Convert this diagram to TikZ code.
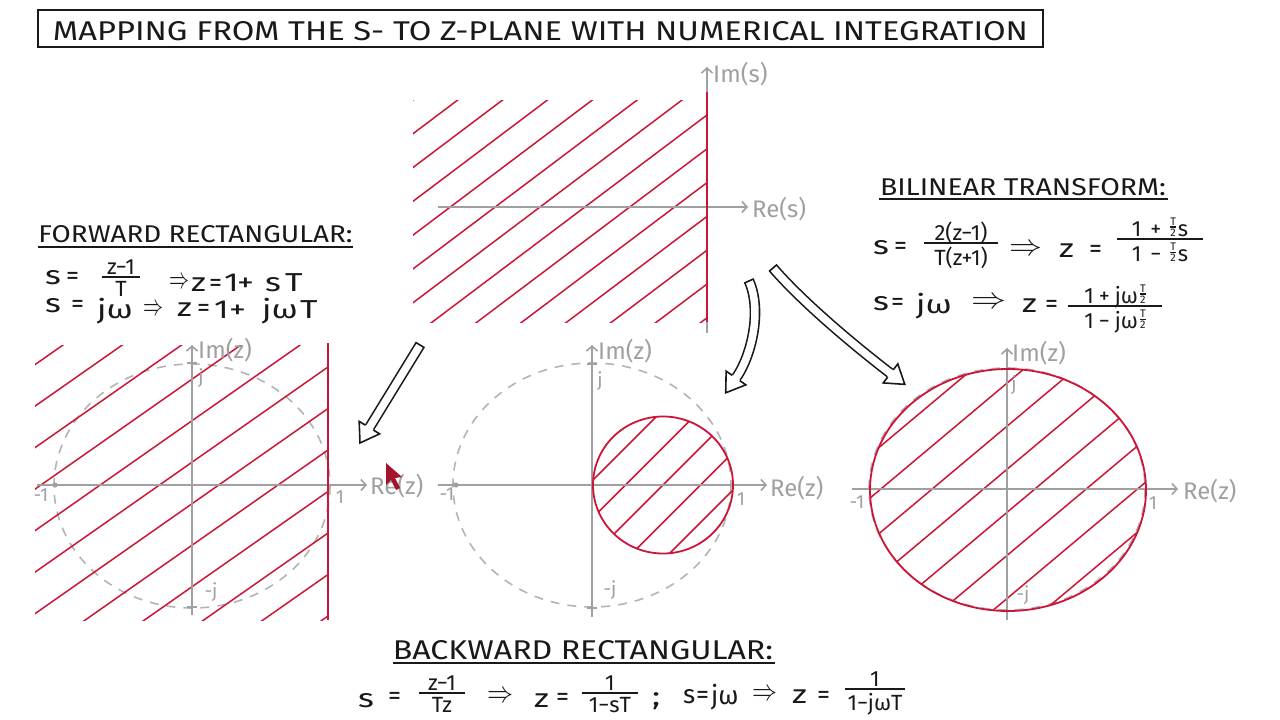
\documentclass[tikz,border=0pt]{standalone}
\usepackage{graphicx}
\usepackage{amsmath}
\usepackage{fontspec}
\setmainfont{Fira Sans}
\usetikzlibrary{arrows.meta}
\definecolor{hred}{RGB}{205,22,55}
\definecolor{axgrey}{RGB}{160,160,160}
\definecolor{dashgrey}{RGB}{180,180,180}
\definecolor{ink}{RGB}{25,25,25}
\newcommand{\myhead}[2]{%
  \begin{scope}[shift={(#1)}, rotate=#2]
    \fill[white] (-0.5,-5.3) -- (-0.5,-12) -- (18,0) -- (-0.5,12) -- (-0.5,5.3) -- cycle;
    \draw[ink, line width=1.6pt, line join=miter] (0,-4.5) -- (0,-12) -- (18,0) -- (0,12) -- (0,4.5);
  \end{scope}}
\newcommand{\mytail}[2]{%
  \begin{scope}[shift={(#1)}, rotate=#2]
    \draw[ink, line width=1.6pt] (0,-5.3) -- (0,5.3);
  \end{scope}}
% small stacked fraction (T over 2), sitting on the baseline
\newcommand{\smfr}[2]{\vbox{\offinterlineskip\halign{\hfil\fontsize{11}{11}\selectfont##\hfil\cr #1\cr\noalign{\kern1pt\hrule height 1.1pt\kern1pt}#2\cr}}}
% one token of a formula (widened like the handwriting), and one at natural width
\newcommand{\mytok}[4]{\node[eqtok] (#1) at (#2,#3) {\scalebox{1.3}[1]{#4}};}
\newcommand{\mytokn}[4]{\node[eqtok] (#1) at (#2,#3) {#4};}
% an implication arrow: name, centre x, centre y, width
\newcommand{\myimp}[4]{\node[imptok] (#1) at (#2,#3) {\resizebox*{#4pt}{11pt}{$\Rightarrow$}};}
% a fraction: [numerator lift], name, centre x, bar y, half width, numerator, denominator
\newcommand{\myfr}[7][3]{%
  \node[fracpart, anchor=base] (#2n) at (#3,#4-#1) {#6};
  \node[fracpart, anchor=north] (#2d) at (#3,#4+4) {#7};
  \draw[ink, line width=1.6pt] (#3-#5,#4) -- (#3+#5,#4);}
\begin{document}
\begin{tikzpicture}[x=1pt,y=-1pt,
  ax/.style={axgrey, line width=1.6pt, -{Straight Barb[length=5pt,width=11pt,line width=1.6pt]}},
  axlab/.style={axgrey, font=\fontsize{24}{24}\selectfont, inner sep=0pt, anchor=west},
  ticklab/.style={axgrey, font=\fontsize{19}{19}\selectfont, inner sep=0pt},
  unitc/.style={dashgrey, line width=1.6pt, dash pattern=on 9pt off 8pt},
  hatch/.style={hred, line width=1.5pt},
  redb/.style={hred, line width=1.8pt},
  tick/.style={axgrey, line width=1.6pt},
  shaft/.style={ink, line width=1.6pt, double=white, double distance=7.5pt},
  head/.style={ink, inner sep=0pt},
  eqtok/.style={ink, inner sep=0pt, anchor=base west, font=\fontsize{26}{26}\selectfont},
  imptok/.style={ink, inner sep=0pt, anchor=center},
  fracpart/.style={ink, inner sep=0pt, font=\fontsize{22}{22}\selectfont},
  uline/.style={ink, line width=1.6pt}
]
\useasboundingbox (0,0) rectangle (1280,720);
\fill[white] (0,0) rectangle (1280,720);

% ---------- title ----------
\node[draw=ink, line width=1.8pt, minimum width=1005pt, minimum height=37pt, inner sep=0pt] (titlebox) at (540.5,28.5) {};
\node[head] (title) at (540.5,31.5) {\resizebox{975pt}{19pt}{MAPPING FROM THE S- TO Z-PLANE WITH NUMERICAL INTEGRATION}};

% ---------- s-plane ----------
\begin{scope}
  \clip (413,100) rectangle (707,322);
  \begin{scope}[shift={(707,115)}, rotate=37]
    \foreach \k in {-14,...,14} \draw[hatch] (-500,\k*27) -- (500,\k*27);
  \end{scope}
\end{scope}
\draw[ax] (438,207) -- (748,207);
\draw[ax] (707,333) -- (707,67);
\draw[redb] (707,92) -- (707,322);
\node[axlab] (res) at (752,209) {Re(s)};
\node[axlab] (ims) at (713,74) {Im(s)};

% ---------- forward rectangular ----------
\node[head] (fwdhead) at (195.5,234.5) {\resizebox{314pt}{17pt}{FORWARD RECTANGULAR:}};
\draw[uline] (38,247) -- (353,247);
\mytok{f1s}{45}{284}{s}
\mytokn{f1eq}{66}{284}{=}
\myfr{f1f}{121}{277}{19}{z−1}{T}
\myimp{f1r}{179}{283}{20}
\mytok{f1z}{191}{291}{z}
\mytokn{f1eqb}{209}{291}{=}
\mytok{f1one}{224}{291}{1}
\mytok{f1p}{237}{291}{+}
\mytok{f1sb}{265}{291}{s}
\mytok{f1T}{285}{291}{T}
\mytok{f2s}{45}{312}{s}
\mytokn{f2eq}{71}{312}{=}
\mytok{f2jw}{97}{318}{jω}
\myimp{f2r}{153}{310}{20}
\mytok{f2z}{177}{316}{z}
\mytokn{f2eqb}{197}{316}{=}
\mytok{f2one}{214}{318}{1}
\mytok{f2p}{229}{318}{+}
\mytok{f2jw2}{262}{318}{jω}
\mytok{f2T}{300}{318}{T}

% left z-plane
\draw[unitc] (192,486) ellipse [x radius=138, y radius=122];
\begin{scope}
  \clip (35,345) rectangle (328,620);
  \begin{scope}[shift={(328,367)}, rotate=35]
    \foreach \k in {-14,...,14} \draw[hatch] (-600,\k*34) -- (600,\k*34);
  \end{scope}
\end{scope}
\draw[ax] (37,485) -- (367,485);
\draw[ax] (192,615) -- (192,345);
\draw[tick] (187,363) -- (197,363);
\draw[tick] (187,607) -- (197,607);
\fill[axgrey] (55,485) circle (2.6);
\draw[redb] (328,343) -- (328,620);
\node[axlab] (rez1) at (370,486) {Re(z)};
\node[axlab] (imz1) at (198,350) {Im(z)};
\node[ticklab] (m1a) at (41,495) {-1};
\node[ticklab] (p1a) at (340,497) {1};
\node[ticklab] (ja) at (201,378) {j};
\node[ticklab] (mja) at (211,592) {-j};

% ---------- middle z-plane (backward) ----------
\draw[unitc] (592,485) ellipse [x radius=139, y radius=122];
\begin{scope}
  \clip (663,485) ellipse [x radius=70, y radius=68.5];
  \begin{scope}[shift={(663,485)}, rotate=45]
    \foreach \k in {-2,...,2} \draw[hatch] (-200,\k*26.5) -- (200,\k*26.5);
  \end{scope}
\end{scope}
\draw[ax] (438,485) -- (767,485);
\draw[ax] (592,617) -- (592,345);
\draw[tick] (587,364) -- (597,364);
\draw[tick] (587,608) -- (597,608);
\fill[axgrey] (456,485) circle (2.6);
\draw[redb] (663,485) ellipse [x radius=70, y radius=68.5];
\node[axlab] (rez2) at (770,488) {Re(z)};
\node[axlab] (imz2) at (598,351) {Im(z)};
\node[ticklab] (m1b) at (447,494) {-1};
\node[ticklab] (p1b) at (741,499) {1};
\node[ticklab] (jb) at (600,381) {j};
\node[ticklab] (mjb) at (610,590) {-j};

% ---------- right z-plane (bilinear) ----------
\draw[unitc] (1007,489) ellipse [x radius=138, y radius=121];
\begin{scope}
  \clip (1008,490) ellipse [x radius=138, y radius=121];
  \begin{scope}[shift={(1008,490)}, rotate=40]
    \foreach \k in {-3.5,-2.5,...,3.5} \draw[hatch] (-300,\k*33) -- (300,\k*33);
  \end{scope}
\end{scope}
\draw[ax] (852,489) -- (1178,489);
\draw[ax] (1007,620) -- (1007,348);
\draw[redb] (1008,490) ellipse [x radius=138, y radius=121];
\node[axlab] (rez3) at (1183,491) {Re(z)};
\node[axlab] (imz3) at (1012,353) {Im(z)};
\node[ticklab] (m1c) at (857,502) {-1};
\node[ticklab] (p1c) at (1153,503) {1};
\node[ticklab] (jc) at (1014,385) {j};
\node[ticklab] (mjc) at (1023,595) {-j};

% ---------- bilinear text ----------
\node[head] (bilhead) at (1023,187.5) {\resizebox{286pt}{17pt}{BILINEAR TRANSFORM:}};
\draw[uline] (879,199) -- (1168,199);
\mytok{b1s}{873}{254}{s}
\mytokn{b1eq}{894}{254}{=}
\myfr{b1f}{961}{243}{37}{2(z−1)}{T(z+1)}
\myimp{b1r}{1026}{250}{33}
\mytok{b1z}{1059}{257}{z}
\mytokn{b1eqb}{1089}{257}{=}
\myfr{b1g}{1160}{239}{43}{1\hspace{9pt}+\hspace{9pt}\smfr{T}{2}\hspace{2pt}s}{1\hspace{9pt}−\hspace{9pt}\smfr{T}{2}\hspace{2pt}s}
\mytok{b2s}{873}{310}{s}
\mytokn{b2eq}{891}{310}{=}
\mytok{b2jw}{916}{313}{jω}
\myimp{b2r}{989}{303}{35}
\mytok{b2z}{1022}{312}{z}
\mytokn{b2eqb}{1045}{312}{=}
\myfr{b2f}{1115}{306}{47}{1\hspace{5pt}+\hspace{5pt}jω\hspace{2pt}\smfr{T}{2}}{1\hspace{5pt}−\hspace{5pt}jω\hspace{2pt}\smfr{T}{2}}

% ---------- backward text ----------
\node[head] (bwdhead) at (583,650) {\resizebox{380pt}{19pt}{BACKWARD RECTANGULAR:}};
\draw[uline] (393,663) -- (775,663);
\mytok{k1s}{358}{707}{s}
\mytokn{k1eq}{388}{704}{=}
\myfr{k1f}{442}{693}{23}{z−1}{Tz}
\myimp{k1r}{500}{697}{26}
\mytok{k1z}{534}{707}{z}
\mytokn{k1eqb}{556}{705}{=}
\myfr{k1g}{610}{693}{28}{1}{1−sT}
\mytok{k1semi}{652}{705}{;}
\mytokn{k2s}{683}{703}{s}
\mytokn{k2eq}{696}{703}{=}
\mytokn{k2jw}{711}{704}{jω}
\myimp{k2r}{765}{695}{25}
\mytok{k2z}{792}{703}{z}
\mytokn{k2eqb}{817}{703}{=}
\myfr{k2f}{875}{689}{30}{1}{1−jωT}

% ---------- hollow arrows ----------
\coordinate (a1t) at (420,345);
\coordinate (a1b) at (369.4,427.6);
\draw[shaft] (a1t) -- (a1b);
\mytail{a1t}{238.5}
\myhead{a1b}{238.5}

\coordinate (a2t) at (749,281);
\coordinate (a2b) at (736,378);
\draw[shaft] (a2t) .. controls (762,310) and (752,355) .. (a2b);
\mytail{a2t}{-65.9}
\myhead{a2b}{235.2}

\coordinate (a3t) at (773,268);
\coordinate (a3b) at (890.5,373.4);
\draw[shaft] (a3t) .. controls (805,305) and (860,350) .. (a3b);
\mytail{a3t}{-49.1}
\myhead{a3b}{-37.5}

% ---------- mouse pointer ----------
\fill[hred!80!black] (386,463) -- (386,485) -- (391,480) -- (396,490) -- (400,488) -- (395,478) -- (402,477) -- cycle;
\end{tikzpicture}
\end{document}
